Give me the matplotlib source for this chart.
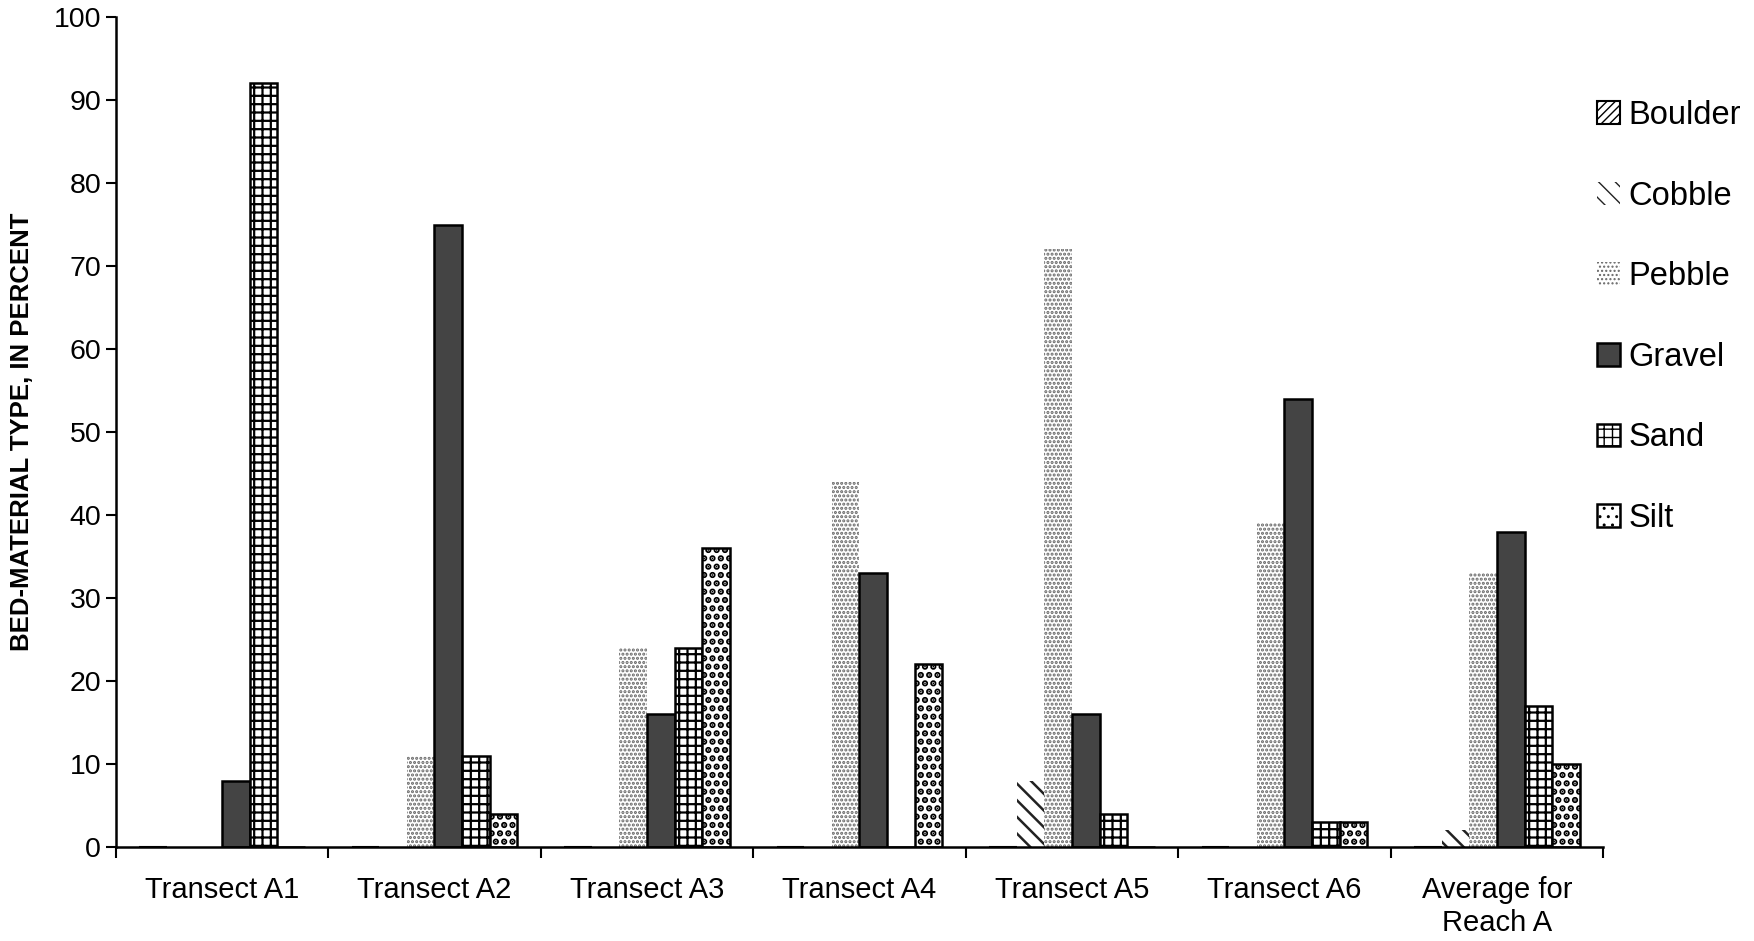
import numpy as np
import matplotlib.pyplot as plt

plt.rcParams['font.family'] = ['Liberation Sans', 'DejaVu Sans']

sites = ['Transect A1', 'Transect A2', 'Transect A3', 'Transect A4',
         'Transect A5', 'Transect A6', 'Average for\nReach A']
materials = ['Boulder', 'Cobble', 'Pebble', 'Gravel', 'Sand', 'Silt']

boulder = [0, 0, 0, 0, 0, 0, 0]
cobble = [0, 0, 0, 0, 8, 0, 2]
pebble = [0, 11, 24, 44, 72, 39, 33]
gravel = [8, 75, 16, 33, 16, 54, 38]
sand = [92, 11, 24, 0, 4, 3, 17]
silt = [0, 4, 36, 22, 0, 3, 10]

series = [boulder, cobble, pebble, gravel, sand, silt]

# bar look for each material, hatch line width kept separately
styles = [
    dict(facecolor='white', hatch='////', edgecolor='black', linewidth=1.5),
    dict(facecolor='white', hatch='\\\\', edgecolor='#222222', linewidth=0),
    dict(facecolor='white', hatch='....', edgecolor='#666666', linewidth=0),
    dict(facecolor='#444444', hatch=None, edgecolor='black', linewidth=1.8),
    dict(facecolor='white', hatch='++', edgecolor='black', linewidth=1.8),
    dict(facecolor='white', hatch='..', edgecolor='black', linewidth=1.8),
]
hatch_lw = [1.5, 1.8, 1.5, 1.0, 1.6, 3.2]

fig = plt.figure(figsize=(17.54, 9.41), dpi=100)
ax = fig.add_axes([0.066, 0.0999, 0.848, 0.882])

x = np.arange(len(sites))
n = len(series)
width = 0.13
for i, (name, vals) in enumerate(zip(materials, series)):
    pos = x + (i - (n - 1) / 2) * width
    with plt.rc_context({'hatch.linewidth': hatch_lw[i]}):
        ax.bar(pos, vals, width, label=name, zorder=2, **styles[i])

ax.set_xlim(-0.5, len(sites) - 0.5)
ax.set_ylim(0, 100)
ax.set_yticks(range(0, 101, 10))
ax.tick_params(axis='y', labelsize=20.5, length=7, width=1.5, direction='out')

ax.set_xticks(x)
ax.set_xticklabels(sites, fontsize=21)
ax.tick_params(axis='x', which='major', length=0, pad=21)
ax.set_xticks(np.arange(-0.5, len(sites), 1), minor=True)
ax.tick_params(axis='x', which='minor', length=8, width=1.5, direction='out')

ax.spines['top'].set_visible(False)
ax.spines['right'].set_visible(False)
ax.spines['left'].set_linewidth(1.8)
ax.spines['bottom'].set_linewidth(1.8)

ax.set_ylabel('BED-MATERIAL TYPE, IN PERCENT', fontsize=18.5, fontweight='bold',
              family=['Liberation Sans Narrow', 'Liberation Sans'], labelpad=14)

handles, labels = ax.get_legend_handles_labels()
fig.legend(handles, labels, loc='upper left', bbox_to_anchor=(0.894, 0.925),
           frameon=False, fontsize=23.5, handlelength=0.7, handleheight=0.7,
           handletextpad=0.25, labelspacing=1.52)

plt.savefig('out.png', dpi=100)
